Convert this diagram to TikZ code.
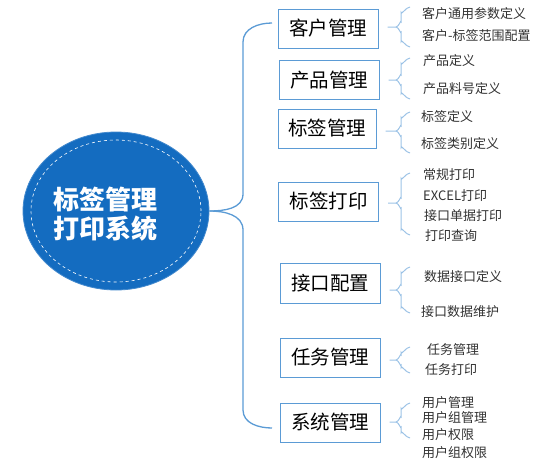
\documentclass[tikz,border=0pt]{standalone}
\usepackage{fontspec}
\newfontfamily\cjk{Noto Sans CJK SC}
\usetikzlibrary{shapes.geometric}
\definecolor{rootblue}{RGB}{20,108,192}
\definecolor{boxline}{RGB}{91,155,213}
\definecolor{braceline}{RGB}{157,195,230}
\definecolor{leaftext}{RGB}{50,50,50}
\tikzset{
  rootnode/.style={ellipse, fill=rootblue, draw=rootblue!80!white, line width=0.8pt, minimum width=186pt, minimum height=158pt, inner sep=0pt},
  roottext/.style={text=white, font=\cjk\bfseries\fontsize{26}{29}\selectfont, align=center, inner sep=0pt},
  catbox/.style={draw=boxline, line width=1pt, minimum width=100pt, minimum height=39pt, inner sep=0pt, font=\cjk\fontsize{19.5}{22}\selectfont, text=black},
  leaf/.style={anchor=west, inner sep=0pt, font=\cjk\fontsize{13}{15}\selectfont, text=leaftext},
  mainbrace/.style={draw=boxline, line width=1.3pt},
  subbrace/.style={draw=braceline, line width=1pt},
}
\begin{document}
\begin{tikzpicture}[x=1pt,y=-1pt]
\useasboundingbox (0,0) rectangle (556,463);
% root
\node[rootnode] (root) at (116,211) {};
\draw[white, dashed, line width=0.6pt] (root.center) ellipse [x radius=85pt, y radius=71pt];
\node[roottext] (rtxt) at (105.5,214) {标签管理\\打印系统};
% category boxes
\node[catbox] (b1) at (328,28.5) {客户管理};
\node[catbox] (b2) at (329,80) {产品管理};
\node[catbox,minimum width=98pt] (b3) at (327,128.5) {标签管理};
\node[catbox] (b4) at (328.5,201.5) {标签打印};
\node[catbox,minimum height=40pt] (b5) at (330,283) {接口配置};
\node[catbox] (b6) at (330,357.5) {任务管理};
\node[catbox] (b7) at (330,422.5) {系统管理};
% main brace
\coordinate (mt) at (272,23);
\coordinate (mb) at (272,428);
\draw[mainbrace] (mt) to[out=180,in=90] (243,42) -- (243,194)
   to[out=-90,in=0] (root.east);
\draw[mainbrace] (mb) to[out=180,in=-90] (243,410) -- (243,230)
   to[out=90,in=0] (root.east);
% sub braces
\foreach \b/\t/\m/\bt in {b1/7/27/47, b2/58/80/99, b3/112/131/153, b4/173/203/235, b5/267/290/313, b6/347/360/373, b7/403/422/438}{
  \draw[subbrace] (\b.east |- 0,\m) ++(9,0) coordinate (\b-s) -- (396,\m)
     to[out=0,in=90] (401,\m-5) -- (401,\t+5) to[out=-90,in=180] (410,\t);
  \draw[subbrace] (396,\m) to[out=0,in=-90] (401,\m+5) -- (401,\bt-5) to[out=90,in=180] (410,\bt);
}
% leaves
\node[leaf] (l11) at (422,14) {客户通用参数定义};
\node[leaf] (l12) at (422,36) {客户-标签范围配置};
\node[leaf] (l21) at (423,61) {产品定义};
\node[leaf] (l22) at (423,89) {产品料号定义};
\node[leaf] (l31) at (421,117) {标签定义};
\node[leaf] (l32) at (421,144) {标签类别定义};
\node[leaf] (l41) at (423,175) {常规打印};
\node[leaf] (l42) at (423,196) {EXCEL打印};
\node[leaf] (l43) at (424,216) {接口单据打印};
\node[leaf] (l44) at (425,236) {打印查询};
\node[leaf] (l51) at (424,277) {数据接口定义};
\node[leaf] (l52) at (421,312) {接口数据维护};
\node[leaf] (l61) at (427,350) {任务管理};
\node[leaf] (l62) at (425,370) {任务打印};
\node[leaf] (l71) at (422,403) {用户管理};
\node[leaf] (l72) at (422,418) {用户组管理};
\node[leaf] (l73) at (422,435) {用户权限};
\node[leaf] (l74) at (422,453) {用户组权限};
\end{tikzpicture}
\end{document}
